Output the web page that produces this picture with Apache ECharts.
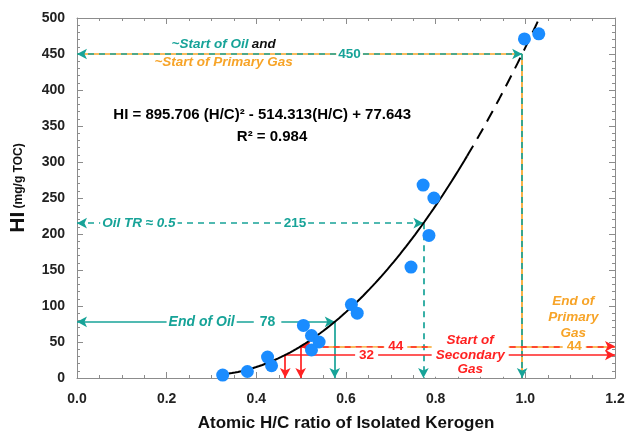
<!DOCTYPE html>
<html>
<head>
<meta charset="utf-8">
<script src="https://cdn.jsdelivr.net/npm/echarts@6/dist/echarts.min.js"></script>
<style>
  html, body { margin: 0; padding: 0; background: #fff; }
  #chart { width: 628px; height: 437px; }
</style>
</head>
<body>
<div id="chart"></div>
<script>
// Measured kerogen samples: atomic H/C ratio and hydrogen index (mg/g TOC)
const hcRatio  = [0.325, 0.380, 0.425, 0.434, 0.505, 0.523, 0.523, 0.540, 0.612, 0.625, 0.745, 0.772, 0.785, 0.796, 0.998, 1.030];
const hiValues = [4, 9, 29, 17, 73, 59, 39, 50, 102, 90, 154, 268, 198, 250, 471, 478];

// Quadratic fit printed on the chart: HI = a(H/C)^2 + b(H/C) + c
const fitCoef = [895.706, -514.313, 77.643];
const fitR2 = 0.984;
const fitSolidRange = [0.325, 0.87];
const fitDashRange = [0.87, 1.03];

// Threshold HI levels marked on the chart
const oilStartHI = 450;
const oilTrHI = 215;
const oilEndHI = 78;
const secGasHI = [44, 32];

// Axis ticks
const xTicks = [0, 0.2, 0.4, 0.6, 0.8, 1.0, 1.2];
const yTicks = [0, 50, 100, 150, 200, 250, 300, 350, 400, 450, 500];

const TEAL = '#17a398';
const ORANGE = '#f7a428';
const RED = '#ff2222';
const BLUE = '#1a8cff';
const FONT = 'Liberation Sans, Arial, sans-serif';

function hiFit(h) { return fitCoef[0] * h * h + fitCoef[1] * h + fitCoef[2]; }
function hcAt(hi) {
  const [a, b, c] = fitCoef;
  return (-b + Math.sqrt(b * b - 4 * a * (c - hi))) / (2 * a);
}
function curve(range) {
  const pts = [];
  const n = 80;
  for (let i = 0; i <= n; i++) {
    const h = range[0] + (range[1] - range[0]) * i / n;
    pts.push([h, hiFit(h)]);
  }
  return pts;
}

const hcStart = hcAt(oilStartHI);
const hcTr = hcAt(oilTrHI);
const hcEnd = hcAt(oilEndHI);
const hcGasA = hcAt(secGasHI[0]);
const hcGasB = hcAt(secGasHI[1]);
const xMax = xTicks[xTicks.length - 1];

const ARROW = 'arrow';
function seg(p0, p1, s0, s1) {
  return [
    { coord: p0, symbol: s0 || 'none' },
    { coord: p1, symbol: s1 || 'none' }
  ];
}
function lineLayer(name, color, type, data, z) {
  return {
    name: name, type: 'line', data: [], z: z || 3, silent: true,
    markLine: {
      silent: true, animation: false, symbolSize: [8, 10], precision: 6,
      label: { show: false },
      lineStyle: { color: color, width: 1.7, type: type },
      emphasis: { disabled: true },
      data: data
    }
  };
}

// Text placed at data coordinates
function textAt(x, y, text, color, opts) {
  opts = opts || {};
  return {
    value: [x, y],
    label: Object.assign({
      show: true, position: 'inside', formatter: text, color: color,
      fontFamily: FONT, fontWeight: 'bold', fontStyle: 'italic', fontSize: 13.5,
      backgroundColor: opts.bg === false ? 'transparent' : '#fff',
      padding: [0, 2], lineHeight: 14.5
    }, opts.label || {})
  };
}

const labels = [
  { value: [0.327, 463], label: { show: true, position: 'inside', formatter: '{t|~Start of Oil} {k|and}',
      rich: { t: { color: TEAL, fontFamily: FONT, fontWeight: 'bold', fontStyle: 'italic', fontSize: 13.5 },
              k: { color: '#111', fontFamily: FONT, fontWeight: 'bold', fontStyle: 'italic', fontSize: 13.5 } } } },
  textAt(0.327, 438, '~Start of Primary Gas', ORANGE, { bg: false }),
  textAt(0.608, oilStartHI, String(oilStartHI), TEAL, { label: { fontStyle: 'normal' } }),
  textAt(0.138, oilTrHI, 'Oil TR \u2248 0.5', TEAL),
  textAt(0.486, oilTrHI, String(oilTrHI), TEAL, { label: { fontStyle: 'normal' } }),
  textAt(0.278, oilEndHI, 'End of Oil', TEAL, { label: { fontSize: 14 } }),
  textAt(0.425, oilEndHI, String(oilEndHI), TEAL, { label: { fontStyle: 'normal', fontSize: 14, padding: [0, 6] } }),
  textAt(0.711, secGasHI[0], String(secGasHI[0]), RED, { label: { fontStyle: 'normal', padding: [0, 4] } }),
  textAt(0.646, secGasHI[1], String(secGasHI[1]), RED, { label: { fontStyle: 'normal', padding: [0, 4] } }),
  textAt(1.109, secGasHI[0], String(secGasHI[0]), ORANGE, { label: { fontStyle: 'normal', padding: [0, 4] } }),
  textAt(0.877, 32, 'Start of\nSecondary\nGas', RED, { label: { padding: [0, 4] } }),
  textAt(1.107, 84, 'End of\nPrimary\nGas', ORANGE, { bg: false, label: { lineHeight: 16 } }),
  { value: [0.071, 366], label: { show: true, position: 'insideLeft',
      formatter: 'HI = ' + fitCoef[0].toFixed(3) + ' (H/C)\u00b2 - ' + Math.abs(fitCoef[1]).toFixed(3) + '(H/C) + ' + fitCoef[2].toFixed(3),
      color: '#000', fontFamily: FONT, fontWeight: 'bold', fontSize: 15 } },
  { value: [0.435, 335], label: { show: true, position: 'inside',
      formatter: 'R\u00b2 = ' + fitR2.toFixed(3),
      color: '#000', fontFamily: FONT, fontWeight: 'bold', fontSize: 15 } }
];

const axisCommon = {
  axisLine: { show: true, onZero: false, lineStyle: { color: '#8c8c8c', width: 1 } },
  axisTick: { show: true, inside: true, length: 6, lineStyle: { color: '#8c8c8c' } },
  minorTick: { show: true, length: 3, lineStyle: { color: '#8c8c8c' } },
  splitLine: { show: false }
};
const tickLabel = { color: '#222', fontFamily: FONT, fontWeight: 'bold', fontSize: 14 };

const option = {
  animation: false,
  backgroundColor: '#fff',
  grid: { left: 76, right: 13, top: 18, bottom: 58, containLabel: false },
  xAxis: [
    Object.assign({}, axisCommon, {
      type: 'value', min: xTicks[0], max: xMax, interval: 0.2,
      minorTick: Object.assign({}, axisCommon.minorTick, { splitNumber: 4 }),
      axisLabel: Object.assign({ margin: 14, formatter: v => v.toFixed(1) }, tickLabel),
      name: 'Atomic H/C ratio of Isolated Kerogen', nameLocation: 'middle', nameGap: 37,
      nameTextStyle: { color: '#111', fontFamily: FONT, fontWeight: 'bold', fontSize: 17 }
    }),
    Object.assign({}, axisCommon, {
      type: 'value', position: 'top', min: xTicks[0], max: xMax, interval: 0.2,
      minorTick: Object.assign({}, axisCommon.minorTick, { splitNumber: 4 }),
      axisLabel: { show: false }
    })
  ],
  yAxis: [
    Object.assign({}, axisCommon, {
      type: 'value', min: yTicks[0], max: yTicks[yTicks.length - 1], interval: 50,
      minorTick: Object.assign({}, axisCommon.minorTick, { splitNumber: 5 }),
      axisLabel: Object.assign({ margin: 12 }, tickLabel),
      name: '{a|HI} {b|(mg/g TOC)}', nameLocation: 'middle', nameGap: 48, nameRotate: 90,
      nameTextStyle: {
        padding: [0, 0, 0, 20],
        rich: {
          a: { fontFamily: FONT, fontWeight: 'bold', fontSize: 21, color: '#111' },
          b: { fontFamily: FONT, fontWeight: 'bold', fontSize: 12, color: '#111' }
        }
      }
    }),
    Object.assign({}, axisCommon, {
      type: 'value', position: 'right', min: yTicks[0], max: yTicks[yTicks.length - 1], interval: 50,
      minorTick: Object.assign({}, axisCommon.minorTick, { splitNumber: 5 }),
      axisLabel: { show: false }
    })
  ],
  series: [
    // ~Start of oil / primary gas: orange base with teal dashes
    lineLayer('startBase', ORANGE, 'solid', [
      seg([0, oilStartHI], [hcStart, oilStartHI]),
      seg([hcStart, oilStartHI], [hcStart, 0])
    ], 3),
    lineLayer('startDash', TEAL, [6, 5], [
      seg([0, oilStartHI], [hcStart, oilStartHI], ARROW, ARROW),
      seg([hcStart, oilStartHI], [hcStart, 0], 'none', ARROW)
    ], 4),
    // Oil transformation ratio 0.5
    lineLayer('oilTR', TEAL, [6, 5], [
      seg([0, oilTrHI], [hcTr, oilTrHI], ARROW, ARROW),
      seg([hcTr, oilTrHI], [hcTr, 0], 'none', ARROW)
    ], 4),
    // End of oil
    lineLayer('oilEnd', TEAL, 'solid', [
      seg([0, oilEndHI], [hcEnd, oilEndHI], ARROW, ARROW),
      seg([hcEnd, oilEndHI], [hcEnd, 0], 'none', ARROW)
    ], 4),
    // Secondary gas window
    lineLayer('gasBase', ORANGE, 'solid', [
      seg([hcGasA, secGasHI[0]], [xMax, secGasHI[0]])
    ], 3),
    lineLayer('gasDash', RED, [6, 5], [
      seg([hcGasA, secGasHI[0]], [xMax, secGasHI[0]], ARROW, ARROW)
    ], 4),
    lineLayer('gasSolid', RED, 'solid', [
      seg([hcGasB, secGasHI[1]], [xMax, secGasHI[1]], 'none', ARROW),
      seg([hcGasA, secGasHI[0]], [hcGasA, 0], 'none', ARROW),
      seg([hcGasB, secGasHI[1]], [hcGasB, 0], 'none', ARROW)
    ], 4),
    // Fitted curve
    {
      name: 'fit', type: 'line', data: curve(fitSolidRange), showSymbol: false, smooth: false,
      lineStyle: { color: '#000', width: 2 }, z: 6, silent: true
    },
    {
      name: 'fitExtrap', type: 'line', data: curve(fitDashRange), showSymbol: false,
      lineStyle: { color: '#000', width: 2, type: [12, 8] }, z: 6, silent: true
    },
    // Samples
    {
      name: 'samples', type: 'scatter', data: hcRatio.map((h, i) => [h, hiValues[i]]),
      symbolSize: 13, itemStyle: { color: BLUE, opacity: 1 }, z: 7
    },
    // Annotation text
    {
      name: 'notes', type: 'scatter', data: labels, symbol: 'circle', symbolSize: 1, z: 8, silent: true,
      itemStyle: { color: 'rgba(0,0,0,0)', opacity: 1 },
      labelLayout: { hideOverlap: false }
    }
  ]
};

const chart = echarts.init(document.getElementById('chart'), null, { renderer: 'canvas' });
chart.setOption(option);
</script>
</body>
</html>
